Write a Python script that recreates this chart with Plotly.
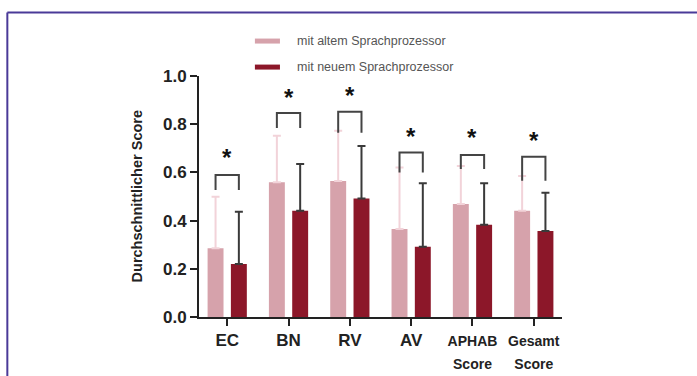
import plotly.graph_objects as go

categories = ["EC", "BN", "RV", "AV", "APHAB<br>Score", "Gesamt<br>Score"]
old_vals = [0.285, 0.559, 0.564, 0.365, 0.469, 0.441]
old_err = [0.214, 0.193, 0.209, 0.255, 0.158, 0.144]
new_vals = [0.220, 0.441, 0.492, 0.292, 0.383, 0.357]
new_err = [0.217, 0.194, 0.218, 0.263, 0.172, 0.159]
bracket_top = [0.589, 0.846, 0.852, 0.683, 0.672, 0.665]
bracket_leg = [0.527, 0.784, 0.765, 0.600, 0.614, 0.565]
star_y = [0.660, 0.912, 0.920, 0.750, 0.743, 0.734]
y_ticks = [0.0, 0.2, 0.4, 0.6, 0.8, 1.0]
legend_names = ["mit altem Sprachprozessor", "mit neuem Sprachprozessor"]

C_OLD = "#d6a2ab"
C_NEW = "#8c1729"
FONT = "Liberation Sans, Arial, sans-serif"

idx = list(range(len(categories)))
ticktext = []
for c in categories:
    if "<br>" in c:
        ticktext.append("<span style='font-size:14px'>%s</span>" % c)
    else:
        ticktext.append(c)

fig = go.Figure()
fig.add_trace(go.Bar(
    x=idx, y=old_vals, marker=dict(color=C_OLD, line=dict(width=0)),
    error_y=dict(type="data", array=old_err, arrayminus=[0]*6, symmetric=False,
                 color="#f2d3d9", thickness=2, width=4),
    showlegend=False, name=legend_names[0]))
fig.add_trace(go.Bar(
    x=idx, y=new_vals, marker=dict(color=C_NEW, line=dict(width=0)),
    error_y=dict(type="data", array=new_err, arrayminus=[0]*6, symmetric=False,
                 color="#3a3a3a", thickness=2, width=4),
    showlegend=False, name=legend_names[1]))

off = 0.19
for i in idx:
    fig.add_trace(go.Scatter(
        x=[i - off, i - off, i + off, i + off],
        y=[bracket_leg[i], bracket_top[i], bracket_top[i], bracket_leg[i]],
        mode="lines", line=dict(color="#444444", width=2, shape="linear"),
        showlegend=False, hoverinfo="skip", cliponaxis=False))
    fig.add_annotation(x=i, y=star_y[i], text="<b>*</b>", showarrow=False,
                       font=dict(size=24, color="#111111", family=FONT),
                       xanchor="center", yanchor="middle")

fig.update_layout(
    width=697, height=376,
    margin=dict(l=199, r=135, t=76, b=59),
    paper_bgcolor="white", plot_bgcolor="white",
    barmode="group", bargap=0.24, bargroupgap=0.316,
    font=dict(family=FONT, color="#222222"),
    xaxis=dict(range=[-0.46, 5.46], tickmode="array", tickvals=idx, ticktext=ticktext,
               showline=True, linecolor="#222222", linewidth=2, automargin=False,
               ticks="outside", ticklen=7, tickwidth=2, tickcolor="#222222",
               tickfont=dict(size=17, family=FONT, color="#222222", weight="bold"),
               showgrid=False, zeroline=False, fixedrange=True),
    yaxis=dict(range=[0, 1.0], tickmode="array", tickvals=y_ticks,
               ticktext=["%.1f" % v for v in y_ticks], automargin=False,
               showline=True, linecolor="#222222", linewidth=2,
               ticks="outside", ticklen=7, tickwidth=2, tickcolor="#222222",
               tickfont=dict(size=17, family=FONT, color="#222222", weight="bold"),
               showgrid=False, zeroline=False, fixedrange=True),
)

# y-axis title
fig.add_annotation(xref="paper", yref="paper", x=-0.171, y=0.5,
                   text="<b>Durchschnittlicher Score</b>", textangle=-90,
                   showarrow=False, xanchor="center", yanchor="middle",
                   font=dict(size=14.5, family=FONT, color="#222222"))

# frame (top and left lines)
fig.add_shape(type="line", xref="paper", yref="paper", x0=-0.528, x1=1.4, y0=1.2635, y1=1.2635,
              line=dict(color="#4a3a98", width=2))
fig.add_shape(type="line", xref="paper", yref="paper", x0=-0.528, x1=-0.528, y0=1.2635, y1=-0.3,
              line=dict(color="#4a3a98", width=2))

# manual legend
leg_y = [1.145, 1.037]
for name, col, yy in zip(legend_names, [C_OLD, C_NEW], leg_y):
    fig.add_shape(type="line", xref="paper", yref="paper", x0=0.154, x1=0.223, y0=yy, y1=yy,
                  line=dict(color=col, width=5))
    fig.add_annotation(xref="paper", yref="paper", x=0.2645, y=yy, text=name,
                       showarrow=False, xanchor="left", yanchor="middle",
                       font=dict(size=12.5, family=FONT, color="#555555"))

fig.write_html("out.html", config={"displayModeBar": False},
               post_script="document.body.style.margin='0';document.body.style.overflow='hidden';")
